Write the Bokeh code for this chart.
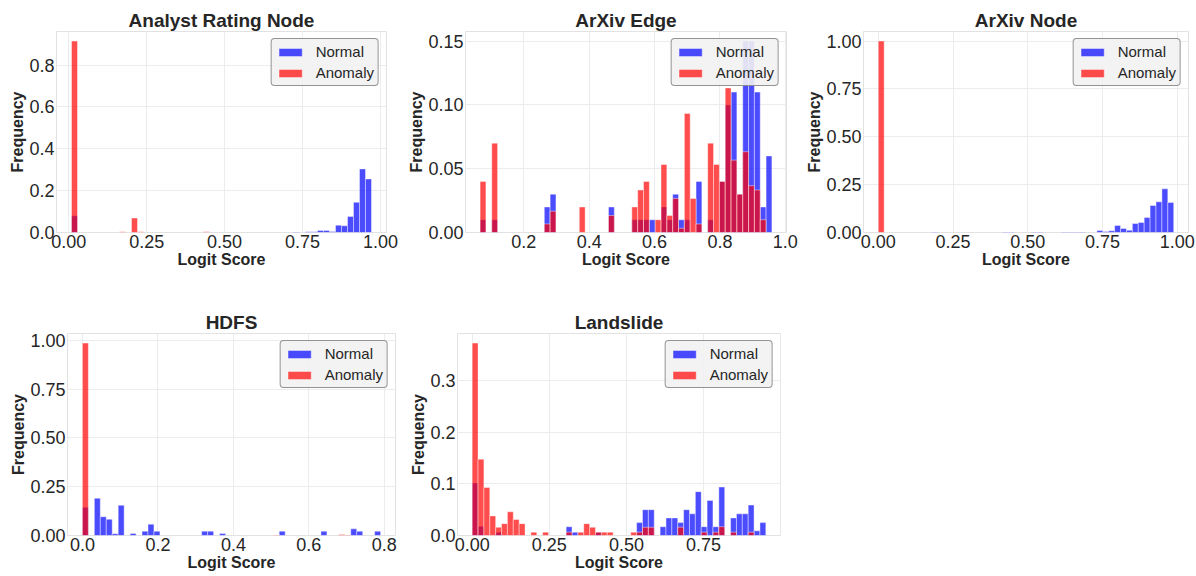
import numpy as np
from bokeh.plotting import figure
from bokeh.layouts import row, column
from bokeh.models import (Range1d, FixedTicker, Legend, LegendItem,
                          PrintfTickFormatter, ColumnDataSource)
from bokeh.embed import file_html
from bokeh.resources import INLINE

FONT = "Liberation Sans"
N_BINS = 50

def sparse(d):
    out = [0.0] * N_BINS
    for k, v in d.items():
        out[k] = v
    return out

# ---------------- data (frequency per bin, 50 bins per panel) ----------------
titles = ["Analyst Rating Node", "ArXiv Edge", "ArXiv Node", "HDFS", "Landslide"]
bin_lo = [0.009, 0.066, 0.0, 0.0, 0.0]
bin_hi = [0.971, 0.959, 0.988, 0.79, 0.952]

analyst_normal = sparse({0: 0.08, 37: 0.002, 39: 0.004, 40: 0.003, 41: 0.01, 42: 0.01,
                         43: 0.005, 44: 0.035, 45: 0.032, 46: 0.077, 47: 0.144,
                         48: 0.304, 49: 0.256})
analyst_anomaly = sparse({0: 0.915, 8: 0.003, 10: 0.069, 11: 0.003, 22: 0.003})

edge_normal = sparse({0: 0.01, 2: 0.01, 11: 0.02, 12: 0.03, 22: 0.02, 26: 0.01, 27: 0.01,
                      28: 0.01, 29: 0.01, 31: 0.02, 32: 0.01, 33: 0.03, 34: 0.01,
                      35: 0.01, 37: 0.04, 39: 0.01, 41: 0.04, 42: 0.10, 43: 0.11,
                      44: 0.03, 45: 0.15, 46: 0.15, 47: 0.11, 48: 0.02, 49: 0.06})
edge_anomaly = sparse({0: 0.04, 2: 0.07, 11: 0.0067, 12: 0.0167, 17: 0.02, 22: 0.0133,
                       26: 0.02, 27: 0.0333, 28: 0.04, 30: 0.01, 31: 0.0533, 32: 0.0133,
                       33: 0.0267, 34: 0.0033, 35: 0.0933, 36: 0.0267, 37: 0.0067,
                       39: 0.07, 40: 0.0533, 41: 0.04, 42: 0.1133, 43: 0.0567, 44: 0.03,
                       45: 0.0633, 46: 0.0367, 47: 0.0333, 48: 0.01})

node_normal = sparse({9: 0.002, 21: 0.002, 22: 0.002, 26: 0.002, 27: 0.002, 31: 0.002,
                      32: 0.002, 33: 0.002, 34: 0.002, 37: 0.01, 38: 0.005, 39: 0.009,
                      40: 0.037, 41: 0.021, 42: 0.012, 43: 0.047, 44: 0.052, 45: 0.078,
                      46: 0.141, 47: 0.16, 48: 0.228, 49: 0.157})
node_anomaly = sparse({0: 1.0})

hdfs_normal = sparse({0: 0.145, 2: 0.191, 3: 0.096, 4: 0.083, 5: 0.009, 6: 0.155, 8: 0.01,
                      10: 0.022, 11: 0.058, 12: 0.022, 20: 0.022, 21: 0.022, 23: 0.01,
                      33: 0.022, 40: 0.022, 45: 0.034, 46: 0.022, 49: 0.022})
hdfs_anomaly = sparse({0: 0.986, 32: 0.003, 43: 0.005, 44: 0.003})

land_normal = sparse({0: 0.102, 1: 0.018, 4: 0.0065, 16: 0.017, 17: 0.0065, 21: 0.0065,
                      28: 0.025, 29: 0.05, 30: 0.05, 32: 0.017, 33: 0.034, 34: 0.034,
                      35: 0.025, 36: 0.05, 37: 0.042, 38: 0.085, 39: 0.017, 40: 0.068,
                      41: 0.017, 42: 0.094, 44: 0.034, 45: 0.042, 46: 0.042, 47: 0.059,
                      48: 0.009, 49: 0.025})
land_anomaly = sparse({0: 0.373, 1: 0.148, 2: 0.093, 3: 0.038, 4: 0.016, 5: 0.023,
                       6: 0.046, 7: 0.031, 8: 0.023, 10: 0.0065, 12: 0.0065, 16: 0.0065,
                       18: 0.0065, 19: 0.023, 20: 0.016, 21: 0.0065, 22: 0.0065,
                       23: 0.0065, 27: 0.0065, 28: 0.0065, 29: 0.016, 30: 0.016,
                       35: 0.016, 39: 0.0065, 41: 0.0065, 42: 0.017, 44: 0.0065,
                       47: 0.0065})

normals = [analyst_normal, edge_normal, node_normal, hdfs_normal, land_normal]
anomalies = [analyst_anomaly, edge_anomaly, node_anomaly, hdfs_anomaly, land_anomaly]

x_ticks = [[0, 0.25, 0.5, 0.75, 1.0], [0.2, 0.4, 0.6, 0.8, 1.0], [0, 0.25, 0.5, 0.75, 1.0],
           [0, 0.2, 0.4, 0.6, 0.8], [0, 0.25, 0.5, 0.75, 1.0]]
x_fmt = ["%.2f", "%.1f", "%.2f", "%.1f", "%.2f"]
y_ticks = [[0, 0.2, 0.4, 0.6, 0.8], [0, 0.05, 0.10, 0.15], [0, 0.25, 0.5, 0.75, 1.0],
           [0, 0.25, 0.5, 0.75, 1.0], [0, 0.1, 0.2, 0.3]]
y_fmt = ["%.1f", "%.2f", "%.2f", "%.2f", "%.1f"]

# ---------------- layout (width, height, borders l, r, t, b) ----------------
sizes = [
    (405, 290, 56, 19, 31, 58),
    (395, 290, 59, 14, 31, 58),
    (395, 290, 63, 7, 31, 58),
    (407, 286, 67, 12, 43, 41),
    (393, 286, 47, 20, 43, 41),
]

TXT = "#262626"


def make_panel(i):
    w, h, bl, br, bt, bb = sizes[i]
    lo, hi = bin_lo[i], bin_hi[i]
    edges = np.linspace(lo, hi, N_BINS + 1)
    span = hi - lo
    ymax = max(max(normals[i]), max(anomalies[i])) * 1.05
    p = figure(width=w, height=h, output_backend="svg", toolbar_location=None,
               x_range=Range1d(lo - 0.05 * span, hi + 0.05 * span),
               y_range=Range1d(0, ymax),
               min_border_left=bl, min_border_right=br,
               min_border_top=bt, min_border_bottom=bb)
    p.title.text = titles[i]
    p.title.text_font = FONT
    p.title.text_font_size = "19px"
    p.title.text_font_style = "bold"
    p.title.text_color = TXT
    p.title.align = "center"
    p.title.standoff = 1

    renderers = []
    for vals, color in ((normals[i], "blue"), (anomalies[i], "red")):
        v = np.array(vals)
        m = v > 0
        src = ColumnDataSource(dict(left=edges[:-1][m], right=edges[1:][m], top=v[m],
                                    bottom=np.zeros(m.sum())))
        r = p.quad(left="left", right="right", top="top", bottom="bottom", source=src,
                   fill_color=color, fill_alpha=0.7, line_color="white",
                   line_alpha=0.7, line_width=0.6)
        renderers.append(r)

    legend = Legend(items=[LegendItem(label="Normal", renderers=[renderers[0]]),
                           LegendItem(label="Anomaly", renderers=[renderers[1]])],
                    location="top_right")
    legend.label_text_font = FONT
    legend.label_text_font_size = "15px"
    legend.label_text_color = TXT
    legend.glyph_width = 29
    legend.glyph_height = 10
    legend.label_standoff = 11
    legend.label_height = 17
    legend.padding = 4
    legend.spacing = 4
    legend.margin = 7
    legend.border_line_color = "#333333"
    legend.border_line_width = 1.5
    legend.background_fill_color = "#f2f2f2"
    legend.background_fill_alpha = 0.9
    if "border_radius" in Legend.properties():
        legend.border_radius = 4
    p.add_layout(legend)

    p.xaxis.ticker = FixedTicker(ticks=x_ticks[i])
    p.yaxis.ticker = FixedTicker(ticks=y_ticks[i])
    p.xaxis.formatter = PrintfTickFormatter(format=x_fmt[i])
    p.yaxis.formatter = PrintfTickFormatter(format=y_fmt[i])
    p.xaxis.axis_label = "Logit Score"
    p.yaxis.axis_label = "Frequency"
    for ax in (p.xaxis[0], p.yaxis[0]):
        ax.axis_line_color = None
        ax.major_tick_line_color = None
        ax.minor_tick_line_color = None
        ax.major_tick_out = 0
        ax.major_tick_in = 0
        ax.major_label_text_font = FONT
        ax.major_label_text_font_size = "18px"
        ax.major_label_text_color = TXT
        ax.major_label_standoff = 2
        ax.axis_label_text_font = FONT
        ax.axis_label_text_font_size = "16px"
        ax.axis_label_text_font_style = "bold"
        ax.axis_label_text_color = TXT
        ax.axis_label_standoff = 0
    p.xgrid.grid_line_color = "#ececec"
    p.ygrid.grid_line_color = "#ececec"
    p.outline_line_color = "#e2e2e2"
    p.outline_line_width = 1
    p.background_fill_color = "white"
    p.border_fill_color = "white"
    return p


panels = [make_panel(i) for i in range(5)]
layout = column(row(panels[0], panels[1], panels[2]), row(panels[3], panels[4]))

open("out.html", "w").write(file_html(layout, INLINE))
